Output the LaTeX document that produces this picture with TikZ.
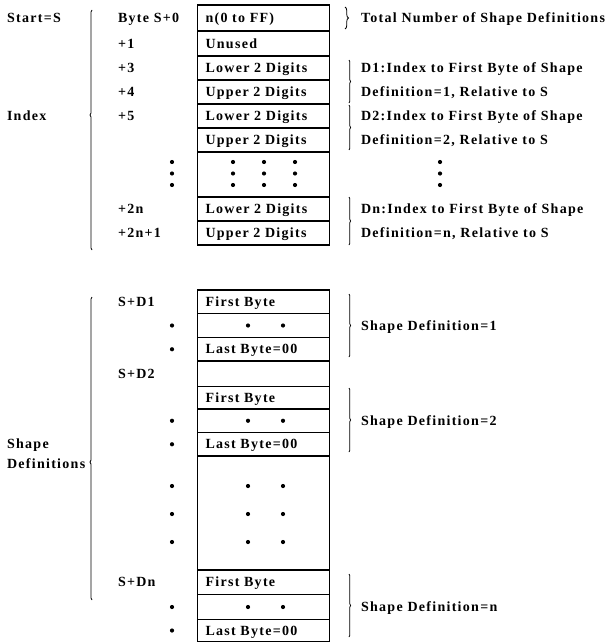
\documentclass[tikz,border=0pt]{standalone}
\usepackage{fontspec}
\setmainfont{Liberation Serif}[LetterSpace=9.2]
\usetikzlibrary{decorations.pathreplacing}

\begin{document}
\begin{tikzpicture}[x=1pt,y=-1pt,
  every node/.style={font=\fontsize{14}{16}\bfseries\selectfont, inner sep=0pt, outer sep=0pt},
  txt/.style={anchor=west, text height=9.3pt, text depth=0pt},
  cell/.style={draw, line width=1.1pt, anchor=north west, text width=116pt,
    inner xsep=8pt, inner ysep=0pt, align=left, text height=9.3pt, text depth=0pt},
  dot/.style={circle, fill, minimum size=4.2pt},
  lbrace/.style={decorate, decoration={brace, amplitude=2pt, aspect=#1}, line width=0.8pt},
  rbrace/.style={decorate, decoration={brace, amplitude=1.6pt}, line width=0.8pt},
]
\useasboundingbox (0,0) rectangle (607,642);

% x positions of the text columns
\coordinate (sx) at (7,0);
\coordinate (lx) at (118,0);
\coordinate (rx) at (361,0);
\coordinate (dx) at (172,0);

% ---------------- index table ----------------
\node[cell, minimum height=26pt] (t0) at (197.5,5)   {n(0 to FF)};
\node[cell, minimum height=25pt] (t1) at (197.5,31)  {Unused};
\node[cell, minimum height=24pt] (t2) at (197.5,56)  {Lower 2 Digits};
\node[cell, minimum height=24pt] (t3) at (197.5,80)  {Upper 2 Digits};
\node[cell, minimum height=24pt] (t4) at (197.5,104) {Lower 2 Digits};
\node[cell, minimum height=24pt] (t5) at (197.5,128) {Upper 2 Digits};
\node[cell, minimum height=45pt] (t6) at (197.5,152) {};
\node[cell, minimum height=24pt] (t7) at (197.5,197) {Lower 2 Digits};
\node[cell, minimum height=24pt] (t8) at (197.5,221) {Upper 2 Digits};

\node[txt] (start) at (t0.west -| sx) {Start=S};
\node[txt] (index) at (t4.west -| sx) {Index};

\node[txt] (o0) at (t0.west -| lx) {Byte S+0};
\node[txt] (o1) at (t1.west -| lx) {+1};
\node[txt] (o3) at (t2.west -| lx) {+3};
\node[txt] (o4) at (t3.west -| lx) {+4};
\node[txt] (o5) at (t4.west -| lx) {+5};
\node[txt] (o2n) at (t7.west -| lx) {+2n};
\node[txt] (o2n1) at (t8.west -| lx) {+2n+1};

\node[txt] (total) at (t0.west -| rx) {Total Number of Shape Definitions};
\node[txt] (d1a) at (t2.west -| rx) {D1:Index to First Byte of Shape};
\node[txt] (d1b) at (t3.west -| rx) {Definition=1, Relative to S};
\node[txt] (d2a) at (t4.west -| rx) {D2:Index to First Byte of Shape};
\node[txt] (d2b) at (t5.west -| rx) {Definition=2, Relative to S};
\node[txt] (dna) at (t7.west -| rx) {Dn:Index to First Byte of Shape};
\node[txt] (dnb) at (t8.west -| rx) {Definition=n, Relative to S};

\foreach \y [count=\i] in {162,173.5,185} {
  \node[dot] (tl\i) at (172,\y) {};
  \node[dot] (ta\i) at (233,\y) {};
  \node[dot] (tb\i) at (264,\y) {};
  \node[dot] (tc\i) at (295,\y) {};
  \node[dot] (tr\i) at (440,\y) {};
}

\draw[lbrace=0.5625] (92,250) -- (92,10);
\draw[decorate, decoration={brace, amplitude=3.5pt}, line width=0.8pt] (345,7) -- (345,29);
\draw[rbrace] (349,60) -- (349,103);
\draw[rbrace] (349,105) -- (349,150);
\draw[rbrace] (349,197) -- (349,245);

% ---------------- shape definitions ----------------
\node[cell, minimum height=23.5pt] (b0) at (197.5,290)   {First Byte};
\node[cell, minimum height=24pt]   (b1) at (197.5,313.5) {};
\node[cell, minimum height=23.5pt] (b2) at (197.5,337.5) {Last Byte=00};
\node[cell, minimum height=25.5pt] (b3) at (197.5,361)   {};
\node[cell, minimum height=22.5pt] (b4) at (197.5,386.5) {First Byte};
\node[cell, minimum height=23.5pt] (b5) at (197.5,409)   {};
\node[cell, minimum height=23.5pt] (b6) at (197.5,432.5) {Last Byte=00};
\node[cell, minimum height=114pt]  (b7) at (197.5,456)   {};
\node[cell, minimum height=24.5pt] (b8) at (197.5,570)   {First Byte};
\node[cell, minimum height=25pt]   (b9) at (197.5,594.5) {};
\node[cell, minimum height=22pt]   (b10) at (197.5,619.5) {Last Byte=00};

\node[txt] (sd1) at (b0.west -| lx) {S+D1};
\node[txt] (sd2) at (b3.west -| lx) {S+D2};
\node[txt] (sdn) at (b8.west -| lx) {S+Dn};

\node[txt] (shape) at (b6.west -| sx) {Shape};
\node[txt] (defs) at (7,464) {Definitions};

\foreach \r/\n in {b1/a, b5/b, b9/c} {
  \node[dot] (l\n1) at (\r.west -| dx) {};
  \node[dot] (m\n1) at ([xshift=50.5pt]\r.west) {};
  \node[dot] (m\n2) at ([xshift=85.5pt]\r.west) {};
}
\foreach \r/\n in {b2/a, b6/b, b10/c} {
  \node[dot] (l\n2) at (\r.west -| dx) {};
}
\foreach \y [count=\i] in {486,514,542} {
  \node[dot] (gl\i) at (172,\y) {};
  \node[dot] (ga\i) at (248,\y) {};
  \node[dot] (gb\i) at (283,\y) {};
}

\node[txt] (s1) at (b1.west -| rx) {Shape Definition=1};
\node[txt] (s2) at (b5.west -| rx) {Shape Definition=2};
\node[txt] (sn) at (b9.west -| rx) {Shape Definition=n};

\draw[lbrace=0.455] (92,600) -- (92,297);
\draw[rbrace] (349,294) -- (349,357);
\draw[rbrace] (349,388) -- (349,452);
\draw[rbrace] (349,574) -- (349,637);
\end{tikzpicture}
\end{document}
